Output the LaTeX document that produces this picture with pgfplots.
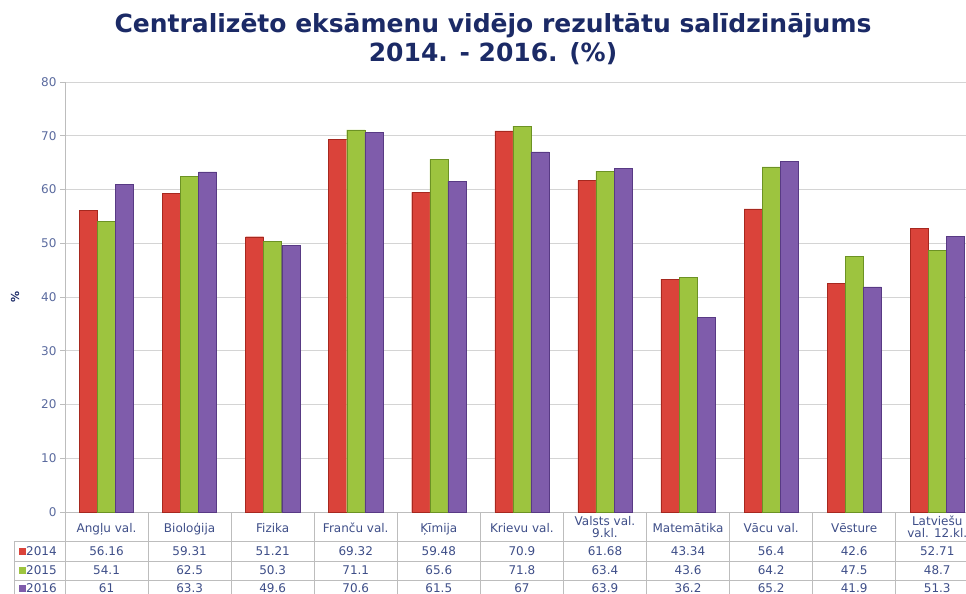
\documentclass[border=0pt]{standalone}
\usepackage{fontspec}
\setmainfont{DejaVu Sans}
\usepackage{pgfplots}
\usepackage{pgfplotstable}
\pgfplotsset{compat=1.18}
\definecolor{titleblue}{HTML}{1B2A66}
\definecolor{tickblue}{HTML}{5A6A9E}
\definecolor{tabblue}{HTML}{3E4E88}
\definecolor{gridgray}{HTML}{D4D4D4}
\definecolor{tabgray}{HTML}{BDBDBD}
\definecolor{redA}{HTML}{DA433A}
\definecolor{redD}{HTML}{A6281F}
\definecolor{greenA}{HTML}{9DC43F}
\definecolor{greenD}{HTML}{6C9224}
\definecolor{purpA}{HTML}{7F5CAB}
\definecolor{purpD}{HTML}{583A84}

\pgfplotstableread{
x a b c
0 56.16 54.1 61
1 59.31 62.5 63.3
2 51.21 50.3 49.6
3 69.32 71.1 70.6
4 59.48 65.6 61.5
5 70.9 71.8 67
6 61.68 63.4 63.9
7 43.34 43.6 36.2
8 56.4 64.2 65.2
9 42.6 47.5 41.9
10 52.71 48.7 51.3
}\data

\newcommand{\tabfont}{\fontsize{12}{12}\selectfont}

\begin{document}
\begin{tikzpicture}[x=1pt,y=1pt]
\useasboundingbox (0,0) rectangle (966,594);
\node[font=\bfseries\fontsize{25}{29}\selectfont, text=titleblue, align=center] at (493,555)
  {Centralizēto eksāmenu vidējo rezultātu salīdzinājums\\2014. - 2016. (\%)};
\begin{axis}[
  at={(65pt,82pt)}, anchor=south west,
  width=901pt, height=430pt, scale only axis,
  xmin=-0.5, xmax=10.346, ymin=0, ymax=80,
  clip=false,
  axis lines*=left,
  axis line style={tabgray, line width=0.8pt},
  ytick={0,10,...,80},
  xtick={0,...,10},
  xticklabels={Angļu val., Bioloģija, Fizika, Franču val., Ķīmija, Krievu val., {Valsts val.\\9.kl.}, Matemātika, Vācu val., Vēsture, {Latviešu\\val. 12.kl.}},
  xtick style={draw=none},
  ytick style={tabgray, line width=0.8pt},
  tick align=outside, major tick length=5pt,
  ymajorgrids, grid style={gridgray, line width=1pt},
  /pgf/number format/assume math mode=true,
  yticklabel style={font=\fontsize{12}{13}\selectfont, text=tickblue},
  xticklabel style={font=\tabfont, text=tabblue, align=center, anchor=center, yshift=-11.5pt,
     execute at begin node={\vphantom{ĀĶ}}, execute at end node={\vphantom{ĀĶ}}},
  ylabel={\%},
  every axis y label/.style={at={(axis description cs:-0.0555,0.5)}, rotate=90, anchor=center,
     font=\bfseries\fontsize{11}{13}\selectfont, text=titleblue},
]
\addplot[ybar, bar width=0.217, bar shift=-0.2175, draw=redD, line width=0.4pt, fill=redA]
  table[x=x,y=a]{\data};
\addplot[ybar, bar width=0.217, bar shift=0, draw=greenD, line width=0.4pt, fill=greenA]
  table[x=x,y=b]{\data};
\addplot[ybar, bar width=0.217, bar shift=0.2175, draw=purpD, line width=0.4pt, fill=purpA]
  table[x=x,y=c]{\data};

% data table values
\addplot[draw=none, mark=none, forget plot, nodes near coords, point meta=explicit symbolic,
  every node near coord/.append style={anchor=center, yshift=-39.5pt, font=\tabfont, text=tabblue}]
  table[x=x, y expr=0, meta=a]{\data};
\addplot[draw=none, mark=none, forget plot, nodes near coords, point meta=explicit symbolic,
  every node near coord/.append style={anchor=center, yshift=-58.5pt, font=\tabfont, text=tabblue}]
  table[x=x, y expr=0, meta=b]{\data};
\addplot[draw=none, mark=none, forget plot, nodes near coords, point meta=explicit symbolic,
  every node near coord/.append style={anchor=center, yshift=-76.5pt, font=\tabfont, text=tabblue}]
  table[x=x, y expr=0, meta=c]{\data};

% table grid
\pgfplotsinvokeforeach{-0.5,0.5,1.5,2.5,3.5,4.5,5.5,6.5,7.5,8.5,9.5,10.5}{
  \draw[tabgray, line width=0.8pt] (axis cs:#1,0) -- ++(0pt,-95pt);
}
\draw[tabgray, line width=0.8pt] (rel axis cs:0,0) ++(-51pt,-29.7pt) -- ++(960pt,0pt);
\draw[tabgray, line width=0.8pt] (rel axis cs:0,0) ++(-51pt,-49pt) -- ++(960pt,0pt);
\draw[tabgray, line width=0.8pt] (rel axis cs:0,0) ++(-51pt,-68pt) -- ++(960pt,0pt);
\draw[tabgray, line width=0.8pt] (rel axis cs:0,0) ++(-51pt,-29.7pt) -- ++(0pt,-70pt);
% legend keys
\fill[redA] (rel axis cs:0,0) ++(-46pt,-43pt) rectangle ++(7pt,7pt);
\fill[greenA] (rel axis cs:0,0) ++(-46pt,-62pt) rectangle ++(7pt,7pt);
\fill[purpA] (rel axis cs:0,0) ++(-46pt,-80pt) rectangle ++(7pt,7pt);
\node[anchor=west, inner sep=0pt, font=\tabfont, text=tabblue, xshift=-39pt, yshift=-39.5pt] at (rel axis cs:0,0) {2014};
\node[anchor=west, inner sep=0pt, font=\tabfont, text=tabblue, xshift=-39pt, yshift=-58.5pt] at (rel axis cs:0,0) {2015};
\node[anchor=west, inner sep=0pt, font=\tabfont, text=tabblue, xshift=-39pt, yshift=-76.5pt] at (rel axis cs:0,0) {2016};
\end{axis}
\end{tikzpicture}
\end{document}
